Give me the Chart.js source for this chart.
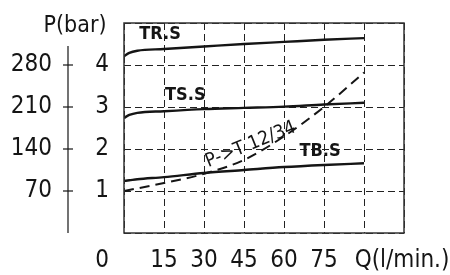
<!DOCTYPE html>
<html>
<head>
<meta charset="utf-8">
<script src="https://cdn.jsdelivr.net/npm/chart.js@4.4.1/dist/chart.umd.min.js"></script>
<style>
  html, body { margin: 0; padding: 0; background: #fff; }
  #wrap { width: 450px; height: 275px; }
</style>
</head>
<body>
<div id="wrap"><canvas id="pChart"></canvas></div>
<script>
// flow Q (l/min) and pressure P (bar)
const flow = [0, 2, 5, 15, 30, 45, 60, 75, 90];
const trS = [4.21, 4.29, 4.34, 4.38, 4.44, 4.5, 4.55, 4.6, 4.64];
const tsS = [2.74, 2.81, 2.86, 2.9, 2.95, 2.98, 3.01, 3.06, 3.1];
const tbS = [1.24, 1.255, 1.28, 1.33, 1.43, 1.5, 1.57, 1.62, 1.66];
const ptFlow = [0, 15, 30, 45, 60, 75, 90];
const ptVals = [1.0, 1.19, 1.41, 1.74, 2.3, 3.0, 3.82];

const flowTicks = [15, 30, 45, 60, 75];
const barTicks = [1, 2, 3, 4];
const altTicks = ['70', '140', '210', '280'];

const FONT = "'DejaVu Sans Condensed', 'Liberation Sans Narrow', 'DejaVu Sans', sans-serif";
const INK = '#151515';

function pts(xs, ys) {
  return xs.map((x, i) => ({ x: x, y: ys[i] }));
}

// labels, frame and the left P axis
const drawExtras = {
  id: 'drawExtras',
  afterDraw(chart) {
    const c = chart.ctx;
    const a = chart.chartArea;
    const xs = chart.scales.x;
    const ys = chart.scales.y;
    c.save();
    c.strokeStyle = '#333';
    c.lineWidth = 1.5;
    c.strokeRect(a.left, a.top, a.right - a.left, a.bottom - a.top);

    c.fillStyle = INK;
    c.textBaseline = 'middle';
    c.font = '24px ' + FONT;

    // bar column and the other column
    const axX = a.left - 56;
    c.strokeStyle = INK;
    c.lineWidth = 1.2;
    c.beginPath();
    c.moveTo(axX, ys.getPixelForValue(4.45));
    c.lineTo(axX, a.bottom);
    c.stroke();
    barTicks.forEach((v, i) => {
      const y = ys.getPixelForValue(v);
      c.textAlign = 'center';
      c.fillText(String(v), a.left - 22, y);
      c.textAlign = 'right';
      c.fillText(altTicks[i], axX - 16, y);
      c.beginPath();
      c.moveTo(axX - 5, y);
      c.lineTo(axX + 5, y);
      c.stroke();
    });

    // x labels
    const ly = a.bottom + 28;
    c.textAlign = 'center';
    c.fillText('0', a.left - 22, ly);
    flowTicks.forEach(v => c.fillText(String(v), xs.getPixelForValue(v), ly));
    c.textAlign = 'left';
    c.fillText('Q(l/min.)', xs.getPixelForValue(86.5), ly);

    c.textAlign = 'center';
    c.font = '23px ' + FONT;
    c.fillText('P(bar)', a.left - 49, 26);

    // curve names
    c.font = 'bold 18px ' + FONT;
    c.fillText('TR.S', xs.getPixelForValue(13.5), ys.getPixelForValue(4.74));
    c.fillText('TS.S', xs.getPixelForValue(23), ys.getPixelForValue(3.28));
    c.fillText('TB.S', xs.getPixelForValue(73.5), ys.getPixelForValue(1.95));

    c.font = '19px ' + FONT;
    c.translate(xs.getPixelForValue(47.5), ys.getPixelForValue(2.1));
    c.rotate(-22 * Math.PI / 180);
    c.fillText('P->T 12/34', 0, 0);
    c.restore();
  }
};

new Chart(document.getElementById('pChart'), {
  type: 'line',
  data: {
    datasets: [
      { label: 'TR.S', data: pts(flow, trS), borderColor: INK, borderWidth: 2.4, pointRadius: 0, cubicInterpolationMode: 'monotone' },
      { label: 'TS.S', data: pts(flow, tsS), borderColor: INK, borderWidth: 2.4, pointRadius: 0, cubicInterpolationMode: 'monotone' },
      { label: 'TB.S', data: pts(flow, tbS), borderColor: INK, borderWidth: 2.4, pointRadius: 0, cubicInterpolationMode: 'monotone' },
      { label: 'P->T 12/34', data: pts(ptFlow, ptVals), borderColor: INK, borderWidth: 2, borderDash: [10, 6], pointRadius: 0, cubicInterpolationMode: 'monotone' }
    ]
  },
  options: {
    responsive: true,
    maintainAspectRatio: false,
    animation: false,
    layout: { padding: { left: 124, top: 23, right: 46, bottom: 42 } },
    plugins: { legend: { display: false }, tooltip: { enabled: false } },
    scales: {
      x: {
        type: 'linear', min: 0, max: 105,
        ticks: { display: false, stepSize: 15 },
        grid: { color: '#222', lineWidth: 1, drawTicks: false },
        border: { display: false, dash: [7, 4] }
      },
      y: {
        min: 0, max: 5,
        ticks: { display: false, stepSize: 1 },
        grid: { color: '#222', lineWidth: 1, drawTicks: false },
        border: { display: false, dash: [7, 4] }
      }
    }
  },
  plugins: [drawExtras]
});
</script>
</body>
</html>
